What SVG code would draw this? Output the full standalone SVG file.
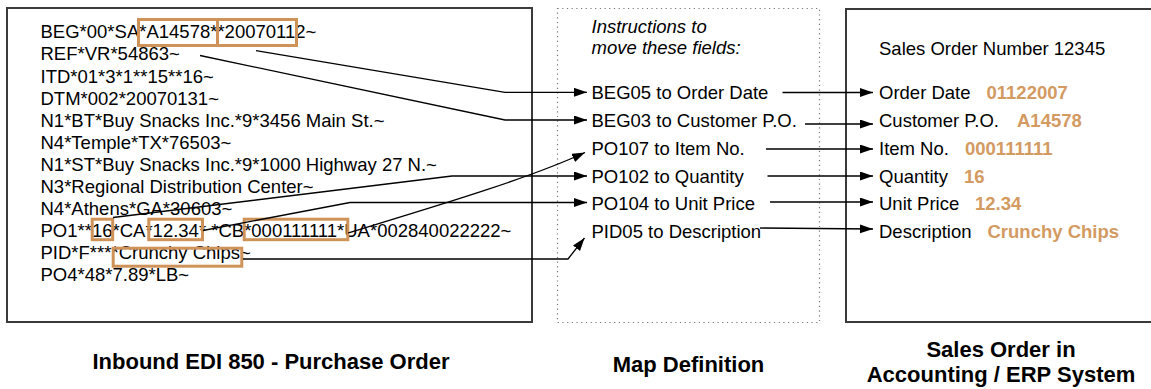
<svg xmlns="http://www.w3.org/2000/svg" width="1151" height="389" viewBox="0 0 1151 389">
<style>
.t{font-family:"Liberation Sans",Arial,sans-serif;font-size:18.5px;fill:#000}
.it{font-style:italic}
.v{font-family:"Liberation Sans",Arial,sans-serif;font-size:18.5px;font-weight:bold;fill:#D39A62}
.ttl{font-family:"Liberation Sans",Arial,sans-serif;font-size:22px;font-weight:bold;fill:#000;text-anchor:middle}
.box{fill:#fff;stroke:#3a3a3a;stroke-width:2}
.dbox{fill:none;stroke:#777;stroke-width:1.2;stroke-dasharray:1.2 3.5}
.hl{fill:none;stroke:#CF935A;stroke-width:3}
.c{fill:none;stroke:#000;stroke-width:1.3}
</style>
<defs>
<marker id="ah" markerUnits="userSpaceOnUse" markerWidth="14" markerHeight="10" refX="13" refY="4.5" orient="auto">
<path d="M0,0 L13,4.5 L0,9 z" fill="#000"/>
</marker>
</defs>
<rect width="1151" height="389" fill="#fff"/>

<g id="edi850">
<rect class="box" x="7" y="8" width="525" height="314"/>
<text class="t" x="40.5" y="38.3">BEG*00*SA*A14578**20070112~</text>
<text class="t" x="40.5" y="60.4">REF*VR*54863~</text>
<text class="t" x="40.5" y="82.5">ITD*01*3*1**15**16~</text>
<text class="t" x="40.5" y="104.6">DTM*002*20070131~</text>
<text class="t" x="40.5" y="126.7">N1*BT*Buy Snacks Inc.*9*3456 Main St.~</text>
<text class="t" x="40.5" y="148.8">N4*Temple*TX*76503~</text>
<text class="t" x="40.5" y="170.9">N1*ST*Buy Snacks Inc.*9*1000 Highway 27 N.~</text>
<text class="t" x="40.5" y="193">N3*Regional Distribution Center~</text>
<text class="t" x="40.5" y="215.1">N4*Athens*GA*30603~</text>
<text class="t" x="40.5" y="237.2">PO1**16*CA*12.34* *CB*000111111*UA*002840022222~</text>
<text class="t" x="40.5" y="259.3">PID*F****Crunchy Chips~</text>
<text class="t" x="40.5" y="281.4">PO4*48*7.89*LB~</text>
<rect class="hl" x="138.5" y="19.5" width="79" height="26"/>
<rect class="hl" x="217.5" y="19.5" width="79" height="26"/>
<rect class="hl" x="92.2" y="219.2" width="20.5" height="20.5"/>
<rect class="hl" x="148.8" y="219.2" width="53.7" height="20.5"/>
<rect class="hl" x="244.2" y="219.2" width="103.6" height="20.5"/>
<rect class="hl" x="113.2" y="248.2" width="128.6" height="18"/>
</g>

<g id="mapdef">
<rect class="dbox" x="557.5" y="8.5" width="262" height="314"/>
<text class="t it" x="591.5" y="32.5">Instructions to</text>
<text class="t it" x="591.5" y="54">move these fields:</text>
<text class="t" x="591.5" y="99">BEG05 to Order Date</text>
<text class="t" x="591.5" y="127">BEG03 to Customer P.O.</text>
<text class="t" x="591.5" y="155">PO107 to Item No.</text>
<text class="t" x="591.5" y="182.5">PO102 to Quantity</text>
<text class="t" x="591.5" y="209.5">PO104 to Unit Price</text>
<text class="t" x="591.5" y="237.5">PID05 to Description</text>
</g>

<g id="salesorder">
<rect class="box" x="846" y="9" width="330" height="313"/>
<text class="t" x="879" y="55">Sales Order Number 12345</text>
<text class="t" x="879" y="99">Order Date</text>
<text class="v" x="986.5" y="99">01122007</text>
<text class="t" x="879" y="127">Customer P.O.</text>
<text class="v" x="1017" y="127">A14578</text>
<text class="t" x="879" y="155">Item No.</text>
<text class="v" x="965" y="155">000111111</text>
<text class="t" x="879" y="182.5">Quantity</text>
<text class="v" x="964" y="182.5">16</text>
<text class="t" x="879" y="209.5">Unit Price</text>
<text class="v" x="975" y="209.5">12.34</text>
<text class="t" x="879" y="237.5">Description</text>
<text class="v" x="987.5" y="237.5">Crunchy Chips</text>
</g>

<g id="connectors">
<path class="c" d="M256,50.7 L505,92.3 L587,92.3" marker-end="url(#ah)"/>
<path class="c" d="M200,55.5 L505,120 L587,120" marker-end="url(#ah)"/>
<path class="c" d="M348,233 C440,205 530,178 585,152.5" marker-end="url(#ah)"/>
<path class="c" d="M113,217.5 L452,176 L587,176" marker-end="url(#ah)"/>
<path class="c" d="M203,230.5 L350,202.5 L587,202.5" marker-end="url(#ah)"/>
<path class="c" d="M243,259 L568,259 L584.5,238" marker-end="url(#ah)"/>
<path class="c" d="M782.5,92.5 L873,92.5" marker-end="url(#ah)"/>
<path class="c" d="M805,124 L873,124" marker-end="url(#ah)"/>
<path class="c" d="M766,149 L873,149" marker-end="url(#ah)"/>
<path class="c" d="M767.5,176 L873,176" marker-end="url(#ah)"/>
<path class="c" d="M770,202 L873,202" marker-end="url(#ah)"/>
<path class="c" d="M760,228 L873,229" marker-end="url(#ah)"/>
</g>

<g id="titles">
<text class="ttl" x="271" y="369.3">Inbound EDI 850 - Purchase Order</text>
<text class="ttl" x="688.5" y="371.5">Map Definition</text>
<text class="ttl" x="1001" y="357">Sales Order in</text>
<text class="ttl" x="1001" y="381.5">Accounting / ERP System</text>
</g>
</svg>
